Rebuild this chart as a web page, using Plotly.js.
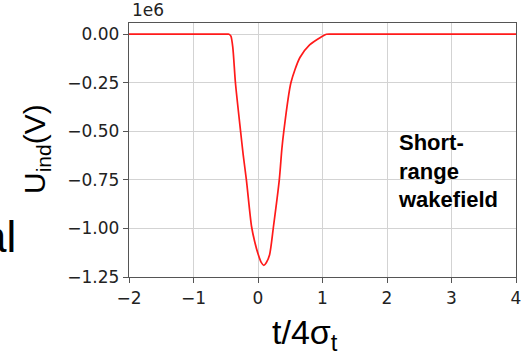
<!DOCTYPE html>
<html>
<head>
<meta charset="utf-8">
<script src="https://cdn.plot.ly/plotly-3.0.1.min.js"></script>
<style>
  html, body { margin: 0; padding: 0; background: #fff; }
  #chart { width: 522px; height: 356px; }
</style>
</head>
<body>
<div id="chart"></div>
<script>
// time in units of 4*sigma_t
const tValues = [-2, -1.5, -1, -0.6, -0.48, -0.45, -0.42, -0.39, -0.35, -0.27, -0.23, -0.18, -0.10, -0.05, 0.0, 0.05, 0.09, 0.13, 0.18, 0.24, 0.33, 0.37, 0.40, 0.51, 0.65, 0.80, 0.98, 1.06, 1.2, 1.5, 2, 3, 4];
// induced voltage, in units of 1e6 V
const uInd = [0, 0, 0, 0, 0, 0, -0.01, -0.07, -0.25, -0.50, -0.62, -0.75, -0.99, -1.07, -1.13, -1.175, -1.19, -1.175, -1.135, -0.99, -0.75, -0.59, -0.50, -0.25, -0.12, -0.055, -0.014, 0, 0, 0, 0, 0, 0];

const xTickVals = [-2, -1, 0, 1, 2, 3, 4];
const xTickText = ['\u22122', '\u22121', '0', '1', '2', '3', '4'];
const yTickVals = [0, -0.25, -0.5, -0.75, -1.0, -1.25];
const yTickText = ['0.00', '\u22120.25', '\u22120.50', '\u22120.75', '\u22121.00', '\u22121.25'];

const L = 129, R = 6, T = 23, B = 79, W = 522, H = 356;
const pw = W - L - R, ph = H - T - B;
const px = x => (x - L) / pw;
const py = y => (H - B - y) / ph;

const tickFont = { family: 'DejaVu Sans', size: 17, color: '#222' };

const trace = {
  x: tValues, y: uInd, type: 'scatter', mode: 'lines',
  line: { color: '#ff1a1a', width: 1.7, shape: 'spline', smoothing: 0.7 },
  hoverinfo: 'skip'
};

const axisCommon = {
  showline: true, linecolor: '#555', linewidth: 1.2, mirror: true,
  ticks: 'outside', ticklen: 5, tickcolor: '#555', tickwidth: 1,
  showgrid: true, gridcolor: '#d3d3d3', gridwidth: 1, zeroline: false,
  tickfont: tickFont, tickmode: 'array'
};

const layout = {
  width: W, height: H,
  margin: { l: L, r: R, t: T, b: B, pad: 0 },
  paper_bgcolor: '#fff', plot_bgcolor: '#fff',
  showlegend: false,
  xaxis: Object.assign({}, axisCommon, {
    range: [-2, 4], tickvals: xTickVals, ticktext: xTickText
  }),
  yaxis: Object.assign({}, axisCommon, {
    range: [-1.25, 0.0577], tickvals: yTickVals, ticktext: yTickText
  }),
  annotations: [
    { text: '1e6', xref: 'paper', yref: 'paper', x: px(130), y: py(22),
      xanchor: 'left', yanchor: 'bottom', showarrow: false,
      font: { family: 'DejaVu Sans', size: 17, color: '#222' } },
    { text: 'U<sub>ind</sub>(V)', xref: 'paper', yref: 'paper', x: px(36), y: py(149),
      xanchor: 'center', yanchor: 'middle', textangle: -90, showarrow: false,
      font: { family: 'Liberation Sans, Arial', size: 30, color: '#000' } },
    { text: 't/4\u03c3<sub>t</sub>', xref: 'paper', yref: 'paper', x: px(305), y: py(334),
      xanchor: 'center', yanchor: 'middle', showarrow: false,
      font: { family: 'Liberation Sans, Arial', size: 34, color: '#000' } },
    { text: 'al', xref: 'paper', yref: 'paper', x: px(18), y: py(236),
      xanchor: 'right', yanchor: 'middle', showarrow: false,
      font: { family: 'Liberation Sans, Arial', size: 44, color: '#000' } },
    { text: '<b>Short-<br>range<br>wakefield</b>', xref: 'paper', yref: 'paper', x: px(396), y: py(128),
      xanchor: 'left', yanchor: 'top', align: 'left', showarrow: false,
      font: { family: 'Liberation Sans, Arial', size: 22, color: '#000' } }
  ]
};

Plotly.newPlot('chart', [trace], layout, { displayModeBar: false, staticPlot: true });
</script>
</body>
</html>
